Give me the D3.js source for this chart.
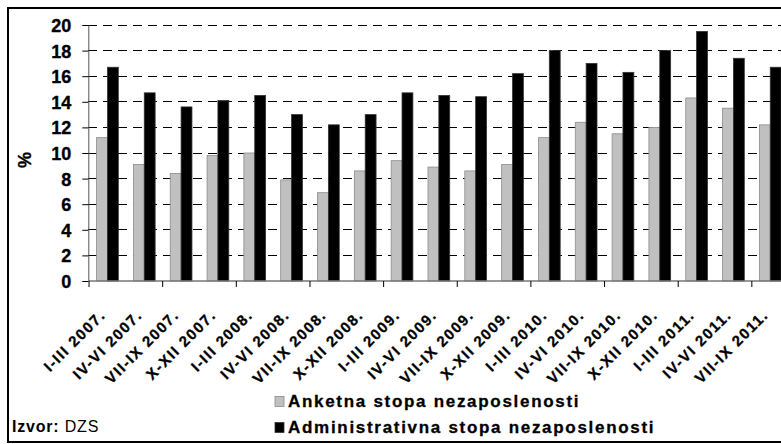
<!DOCTYPE html>
<html><head><meta charset="utf-8">
<script src="https://cdn.jsdelivr.net/npm/d3@7"></script>
<style>body{margin:0;background:#fff} svg{display:block}</style>
</head><body><svg id="c" width="781" height="444"></svg>
<script>
const categories = ["I-III 2007.", "IV-VI 2007.", "VII-IX 2007.", "X-XII 2007.", "I-III 2008.", "IV-VI 2008.", "VII-IX 2008.", "X-XII 2008.", "I-III 2009.", "IV-VI 2009.", "VII-IX 2009.", "X-XII 2009.", "I-III 2010.", "IV-VI 2010.", "VII-IX 2010.", "X-XII 2010.", "I-III 2011.", "IV-VI 2011.", "VII-IX 2011."];
const anketna = [11.2, 9.1, 8.4, 9.8, 10.0, 7.9, 6.9, 8.6, 9.4, 8.9, 8.6, 9.1, 11.2, 12.4, 11.5, 12.0, 14.3, 13.5, 12.2];
const administrativna = [16.7, 14.7, 13.6, 14.1, 14.5, 13.0, 12.2, 13.0, 14.7, 14.5, 14.4, 16.2, 18.0, 17.0, 16.3, 18.0, 19.5, 17.4, 16.7];
const yTicks = [0, 2, 4, 6, 8, 10, 12, 14, 16, 18, 20];
const seriesNames = ["Anketna stopa nezaposlenosti", "Administrativna stopa nezaposlenosti"];
const seriesKeys = ["anketna", "administrativna"];
const seriesColors = ["#c0c0c0", "#000000"];
const seriesStroke = ["#8c8c8c", "#333333"];

const FONT = "Liberation Sans";
const svg = d3.select("#c");
svg.append("rect").attr("width", 781).attr("height", 444).attr("fill", "#fff");

const pLeft = 88.3, pRight = 789.4, pTop = 25, pBottom = 281;
const y = d3.scaleLinear().domain([0, 20]).range([pBottom, pTop]);
const x0 = d3.scaleBand().domain(categories).range([pLeft, pRight]).paddingInner(0.41).paddingOuter(0.225);
const x1 = d3.scaleBand().domain(seriesKeys).range([0, x0.bandwidth()]);
const step = x0.step();

// gridlines
svg.append("g").selectAll("line").data(yTicks.filter(d => d > 0)).join("line")
  .attr("x1", pLeft).attr("x2", 800).attr("y1", d => y(d)).attr("y2", d => y(d))
  .attr("stroke", "#000").attr("stroke-width", 1).attr("stroke-dasharray", "9,6")
  .attr("shape-rendering", "crispEdges");

// bars
const rows = categories.map((c, i) => ({c, vals: [anketna[i], administrativna[i]]}));
const groups = svg.append("g").selectAll("g").data(rows).join("g")
  .attr("transform", d => `translate(${x0(d.c)},0)`);
groups.selectAll("rect").data(d => d.vals.map((v, k) => ({v, k}))).join("rect")
  .attr("x", d => x1(seriesKeys[d.k]))
  .attr("width", x1.bandwidth())
  .attr("y", d => y(d.v))
  .attr("height", d => y(0) - y(d.v))
  .attr("fill", d => seriesColors[d.k])
  .attr("stroke", d => seriesStroke[d.k]).attr("stroke-width", 0.8);

// y axis
const yAxis = d3.axisLeft(y).tickValues(yTicks).tickSize(6).tickPadding(11).tickSizeOuter(0);
const gy = svg.append("g").attr("transform", `translate(${pLeft},0)`).call(yAxis);
gy.select(".domain").attr("stroke", "#555");
gy.selectAll(".tick line").attr("stroke", "#000");
gy.selectAll("text").attr("font-family", FONT).attr("font-weight", "bold").attr("font-size", 18)
  .attr("fill", "#000").attr("stroke", "#000").attr("stroke-width", 0.35).attr("dy", "0.36em");

// x axis
svg.append("line").attr("x1", pLeft).attr("x2", 800).attr("y1", pBottom).attr("y2", pBottom).attr("stroke", "#777").attr("stroke-width", 1.5);
const tickCats = categories.filter((c, i) => i % 2 === 0);
svg.append("g").selectAll("line").data(tickCats).join("line")
  .attr("x1", d => x0(d) - step * 0.205).attr("x2", d => x0(d) - step * 0.205)
  .attr("y1", pBottom).attr("y2", pBottom + 6).attr("stroke", "#000");
svg.append("g").selectAll("text").data(categories).join("text")
  .attr("transform", d => `translate(${x0(d) + x0.bandwidth() / 2 - 1},${316}) rotate(-45)`)
  .attr("text-anchor", "end")
  .attr("font-family", FONT).attr("font-weight", "bold").attr("font-size", 15)
  .attr("letter-spacing", 1.5).attr("stroke", "#000").attr("stroke-width", 0.3)
  .text(d => d);

// y label
svg.append("text").attr("transform", "translate(31,160) rotate(-90)").attr("text-anchor", "middle")
  .attr("font-family", FONT).attr("font-weight", "bold").attr("font-size", 18)
  .attr("stroke", "#000").attr("stroke-width", 0.3).text("%");

// legend
const lg = svg.append("g");
seriesNames.forEach((n, k) => {
  const by = [406.5, 432.5][k];
  lg.append("rect").attr("x", 275).attr("y", by - 10).attr("width", 9).attr("height", 10)
    .attr("fill", seriesColors[k]).attr("stroke", seriesStroke[k]).attr("stroke-width", 0.8);
  lg.append("text").attr("x", 288).attr("y", by)
    .attr("font-family", FONT).attr("font-weight", "bold").attr("font-size", 17).attr("letter-spacing", 1.7)
    .attr("stroke", "#000").attr("stroke-width", 0.3)
    .text(n);
});

// source
const src = svg.append("text").attr("x", 12).attr("y", 432).attr("font-family", FONT).attr("font-size", 16).attr("letter-spacing", 0.8);
src.append("tspan").attr("font-weight", "bold").text("Izvor:");
src.append("tspan").text(" DZS");

// frame
svg.append("rect").attr("x", 8).attr("y", 8).attr("width", 800).attr("height", 434)
  .attr("fill", "none").attr("stroke", "#000").attr("stroke-width", 2);
</script></body></html>
